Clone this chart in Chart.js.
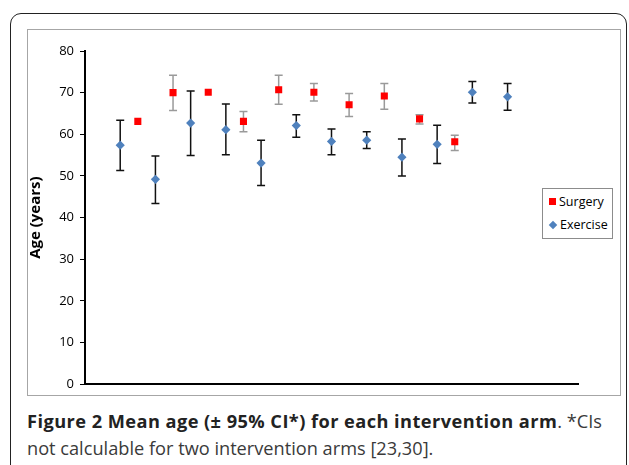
<!DOCTYPE html>
<html>
<head>
<meta charset="utf-8">
<script src="https://cdn.jsdelivr.net/npm/chart.js@4.4.1/dist/chart.umd.min.js"></script>
<style>
    body { margin: 0; background: #fff; width: 629px; height: 465px; overflow: hidden; position: relative; font-family: "Open Sans", sans-serif; }
    #outer { position: absolute; left: 10px; top: 13px; width: 615px; height: 520px; border: 1.5px solid #222; border-radius: 11px; }
    #inner { position: absolute; left: 27px; top: 29px; width: 592px; height: 365px; border: 1px solid #a6a6a6; }
    #wrap { position: absolute; left: 27px; top: 29px; width: 593px; height: 369px; }
    #legend { position: absolute; left: 542px; top: 188px; width: 69px; height: 49px; border: 1px solid #8c8c8c; background: #fff;
        font-family: "Open Sans", sans-serif; font-size: 12.5px; color: #000; }
    .item { position: absolute; left: 6px; height: 16px; line-height: 16px; }
    .sq { display: inline-block; width: 7px; height: 7px; background: #ff0000; margin-right: 3px; vertical-align: 1px; }
    .dm { display: inline-block; width: 6px; height: 6px; background: #4f81bd; transform: rotate(45deg); margin: 0 4px 0 1px; vertical-align: 1px; }
    #caption { position: absolute; left: 27px; top: 408px; width: 600px; font-size: 18.2px; line-height: 27px; color: #3a3a3a; white-space: nowrap; }
    #caption b { color: #222; letter-spacing: 0.45px; }
</style>
</head>
<body>
<div id="outer"></div>
<div id="inner"></div>
<div id="wrap"><canvas id="myChart" width="593" height="369"></canvas></div>
<div id="legend">
    <div class="item" style="top:5px"><span class="sq"></span>Surgery</div>
    <div class="item" style="top:28px"><span class="dm"></span>Exercise</div>
</div>
<div id="caption">
    <div><b>Figure 2 Mean age (± 95% CI*) for each intervention arm</b>. *CIs</div>
    <div>not calculable for two intervention arms [23,30].</div>
</div>
<script>
// x positions of each arm on the hidden x axis (0..28)
let exerciseX = [2, 4, 6, 8, 10, 12, 14, 16, 18, 20, 22, 24];
let exerciseMean = [57.4, 49.2, 62.7, 61.1, 53.1, 62.1, 58.3, 58.6, 54.5, 57.6, 70.1, 69.0];
let exerciseLow = [51.3, 43.4, 54.9, 55.1, 47.7, 59.3, 55.1, 56.6, 50.0, 53.0, 67.5, 65.8];
let exerciseHigh = [63.4, 54.8, 70.4, 67.3, 58.6, 64.7, 61.3, 60.6, 58.9, 62.2, 72.7, 72.2];

let surgeryX = [3, 5, 7, 9, 11, 13, 15, 17, 19, 21];
let surgeryMean = [63.1, 70.0, 70.1, 63.1, 70.7, 70.1, 67.1, 69.2, 63.7, 58.2];
let surgeryLow = [null, 65.7, null, 60.6, 67.2, 68.0, 64.3, 66.0, 62.5, 56.1];
let surgeryHigh = [null, 74.2, null, 65.5, 74.2, 72.2, 69.8, 72.2, 64.7, 59.8];

let yTicks = [0, 10, 20, 30, 40, 50, 60, 70, 80];

function toPoints(xs, ys) {
    return xs.map(function (x, i) { return { x: x, y: ys[i] }; });
}

let errorBars = {
    id: 'errorBars',
    beforeDatasetsDraw: function (chart) {
        let ctx = chart.ctx;
        let xs = chart.scales.x;
        let ys = chart.scales.y;
        chart.data.datasets.forEach(function (ds) {
            ctx.save();
            ctx.strokeStyle = ds.errColor;
            ctx.lineWidth = 1.5;
            ds.data.forEach(function (p, i) {
                if (ds.low[i] == null) return;
                let px = xs.getPixelForValue(p.x);
                let top = ys.getPixelForValue(ds.high[i]);
                let bot = ys.getPixelForValue(ds.low[i]);
                ctx.beginPath();
                ctx.moveTo(px, top); ctx.lineTo(px, bot);
                ctx.moveTo(px - 4, top); ctx.lineTo(px + 4, top);
                ctx.moveTo(px - 4, bot); ctx.lineTo(px + 4, bot);
                ctx.stroke();
            });
            ctx.restore();
        });
    }
};

let myChart = document.getElementById('myChart').getContext('2d');

let chart = new Chart(myChart, {
    type: 'scatter',
    data: {
        datasets: [{
            label: 'Surgery',
            data: toPoints(surgeryX, surgeryMean),
            low: surgeryLow,
            high: surgeryHigh,
            errColor: '#9a9a9a',
            pointStyle: 'rect',
            pointRadius: 5,
            backgroundColor: '#ff0000',
            borderColor: '#ff0000',
            borderWidth: 0
        }, {
            label: 'Exercise',
            data: toPoints(exerciseX, exerciseMean),
            low: exerciseLow,
            high: exerciseHigh,
            errColor: '#111111',
            pointStyle: 'rectRot',
            pointRadius: 4.6,
            backgroundColor: '#4f81bd',
            borderColor: '#4f81bd',
            borderWidth: 0
        }]
    },
    options: {
        responsive: false,
        animation: false,
        layout: { padding: { left: 0, right: 42, top: 22, bottom: 0 } },
        plugins: {
            legend: { display: false },
            tooltip: { enabled: false }
        },
        scales: {
            x: {
                type: 'linear',
                min: 0,
                max: 28,
                grid: { display: false },
                border: { display: true, color: '#000', width: 2 },
                ticks: { display: false },
                afterFit: function (scale) { scale.height = 9; }
            },
            y: {
                min: 0,
                max: 80,
                afterBuildTicks: function (scale) {
                    scale.ticks = yTicks.map(function (v) { return { value: v }; });
                },
                grid: { drawOnChartArea: false, drawTicks: true, tickLength: 5, color: '#000', lineWidth: 1 },
                border: { display: true, color: '#000', width: 2 },
                ticks: { color: '#000', padding: 6, font: { family: 'Open Sans', size: 13 } },
                title: {
                    display: true,
                    text: 'Age (years)',
                    color: '#000',
                    padding: 0,
                    font: { family: 'Open Sans', size: 15, weight: 'bold' }
                },
                afterFit: function (scale) { scale.width = 58; }
            }
        }
    },
    plugins: [errorBars]
});
</script>
</body>
</html>
